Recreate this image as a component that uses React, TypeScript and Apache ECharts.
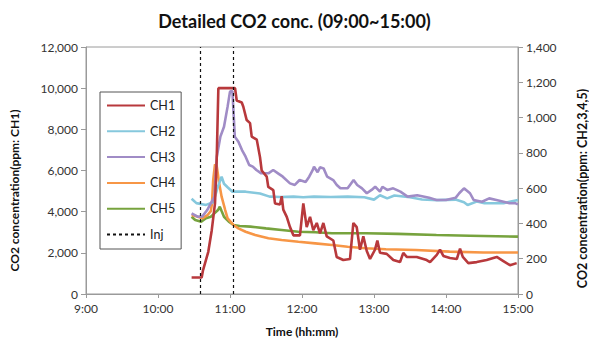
import React, { useEffect, useRef } from "react";
import * as echarts from "echarts";

// time in minutes since 0:00, value in ppm
const ch1: [number, number][] = [
  [628, 800], [636.4, 800], [637.5, 1150], [641.9, 2050], [644.8, 3100], [647.5, 4400], [648.9, 6500],
  [650.3, 10000], [664.2, 10000], [665.6, 9400], [669.8, 9300], [671.1, 9100], [673.9, 8450], [676.7, 8300],
  [678.1, 7650], [682.3, 7500], [685, 6650], [686.4, 6000], [690.6, 5700], [691.9, 5200], [696.1, 5050],
  [697.5, 4400], [701.7, 4350], [703.1, 4750], [704.4, 4100], [707.3, 3750], [710, 3250], [712.8, 2850],
  [718.3, 2850], [721.1, 4400], [723.9, 3250], [726.7, 3750], [729.4, 3100], [732.3, 3450], [735, 2950],
  [737.8, 3450], [740.6, 2800], [746.1, 2600], [748.9, 1800], [754.4, 1650], [760, 1700], [762.8, 3450],
  [765.6, 3250], [768.3, 2150], [771.1, 2800], [773.9, 2100], [776.7, 1700], [780.8, 2150], [782.8, 2600],
  [785, 2000], [790.6, 1950], [796.1, 1650], [801.7, 1550], [804.4, 2000], [807.3, 1800], [815.6, 1800],
  [823.9, 1650], [826.7, 1550], [832.3, 1900], [835, 2150], [837.8, 1850], [843.3, 1750], [849, 1700],
  [851.7, 2200], [854, 1800], [858.6, 1500], [865.6, 1550], [873.9, 1650], [879.4, 1750], [882.3, 1800],
  [887.8, 1600], [893.3, 1400], [898.9, 1500],
];
const ch2: [number, number][] = [
  [628, 540], [632, 515], [640, 505], [646, 520], [650, 610], [653, 665], [655, 625], [658, 605], [662, 580],
  [673, 580], [685, 570], [693, 552], [702, 550], [713, 552], [721, 548], [730, 552], [744, 550], [758, 552],
  [772, 548], [780, 535], [785, 560], [791, 542], [797, 558], [810, 548], [820, 536], [833, 532], [848, 535],
  [855, 520], [858, 504], [866, 525], [872, 514], [888, 514], [893, 523], [900, 533],
];
const ch3: [number, number][] = [
  [628, 457], [633, 438], [637, 440], [641, 476], [644, 514], [647, 552], [649, 778], [652, 892], [655, 948],
  [658, 1062], [660, 1147], [662, 1150], [663, 1024], [664, 892], [667, 863], [670, 816], [673, 778],
  [676, 731], [679, 722], [682, 703], [686, 684], [692, 684], [696, 703], [700, 684], [704, 665], [710, 627],
  [714, 618], [718, 646], [723, 635], [726, 665], [729, 703], [730, 722], [733, 690], [735, 718], [738, 712],
  [741, 665], [746, 646], [749, 618], [752, 599], [758, 599], [760, 618], [763, 646], [766, 618], [770, 599],
  [774, 571], [778, 590], [781, 608], [785, 580], [787, 608], [791, 590], [796, 599], [802, 580], [808, 552],
  [816, 560], [826, 545], [832, 533], [840, 533], [848, 545], [851, 571], [855, 599], [860, 571], [863, 533],
  [870, 523], [876, 542], [882, 533], [888, 523], [893, 514], [898, 514], [900, 508],
];
const ch4: [number, number][] = [
  [628, 448], [632, 440], [637, 429], [641, 445], [644, 470], [645, 514], [646, 646], [647.5, 735], [649, 722],
  [651, 627], [653, 552], [656, 476], [658, 429], [663, 391], [667, 372], [673, 353], [681, 334], [692, 316],
  [703, 306], [717, 296], [731, 287], [745, 278], [758, 268], [773, 259], [790, 254], [815, 249], [843, 240],
  [871, 235], [900, 235],
];
const ch5: [number, number][] = [
  [628, 438], [631, 419], [636, 410], [640, 430], [644, 438], [647, 457], [650, 476], [651.5, 495], [653, 470],
  [655, 438], [659, 410], [663, 391], [668, 385], [677, 382], [690, 372], [703, 363], [717, 353], [731, 350],
  [745, 344], [773, 344], [800, 341], [832, 334], [860, 330], [900, 325],
];
const injTimes = [635, 663];

const FONT = "Lato, 'Liberation Sans', sans-serif";

const fmtTime = (v: number) => `${Math.floor(v / 60)}:${String(v % 60).padStart(2, "0")}`;
const fmtNum = (v: number) => v.toLocaleString("en-US");

export default function App() {
  const ref = useRef<HTMLDivElement>(null);
  useEffect(() => {
    document.body.style.margin = "0";
    if (!ref.current) return;
    const chart = echarts.init(ref.current, undefined, { renderer: "svg" });
    const lineSeries = (name: string, data: [number, number][], color: string, yAxisIndex: number) => ({
      name,
      type: "line",
      data,
      yAxisIndex,
      symbol: "none",
      lineStyle: { color, width: 2.6 },
      itemStyle: { color },
    });
    chart.setOption({
      animation: false,
      textStyle: { fontFamily: FONT },
      title: {
        text: "Detailed CO2 conc. (09:00~15:00)",
        left: "center",
        top: 7,
        textStyle: { fontFamily: FONT, fontSize: 18, fontWeight: "bold", color: "#111" },
      },
      grid: {
        left: 86,
        right: 71,
        top: 47,
        bottom: 51,
        show: true,
        borderColor: "#9a9a9a",
        borderWidth: 1,
        outerBoundsMode: "none",
        containLabel: false,
      },
      legend: {
        orient: "vertical",
        left: 100,
        top: 92,
        itemWidth: 38,
        itemHeight: 14,
        itemGap: 12.8,
        itemStyle: { opacity: 0 },
        lineStyle: { width: 2 },
        padding: [7, 6, 8, 6],
        borderColor: "#555",
        borderWidth: 1,
        textStyle: { fontFamily: FONT, fontSize: 12.5, color: "#222" },
        data: ["CH1", "CH2", "CH3", "CH4", "CH5", "Inj"],
      },
      xAxis: {
        type: "value",
        min: 540,
        max: 900,
        interval: 60,
        name: "Time (hh:mm)",
        nameLocation: "middle",
        nameGap: 31,
        nameTextStyle: { fontFamily: FONT, fontSize: 12, fontWeight: "bold", color: "#111" },
        axisLine: { lineStyle: { color: "#9a9a9a" } },
        axisTick: { length: 4, lineStyle: { color: "#9a9a9a" } },
        axisLabel: { formatter: fmtTime, fontFamily: FONT, fontSize: 12, color: "#333", margin: 8 },
        splitLine: { show: false },
      },
      yAxis: [
        {
          type: "value",
          min: 0,
          max: 12000,
          interval: 2000,
          name: "CO2 concentration(ppm: CH1)",
          nameLocation: "middle",
          nameGap: 66,
          nameTextStyle: {
            fontFamily: FONT,
            fontSize: 12,
            fontWeight: "bold",
            color: "#111",
            padding: [0, 40, 0, 0],
          },
          axisLine: { show: true, lineStyle: { color: "#9a9a9a" } },
          axisTick: { show: true, length: 5, lineStyle: { color: "#9a9a9a" } },
          axisLabel: { formatter: fmtNum, fontFamily: FONT, fontSize: 12, color: "#333", margin: 8 },
          splitLine: { show: false },
        },
        {
          type: "value",
          min: 0,
          max: 1400,
          interval: 200,
          position: "right",
          name: "CO2 concentration(ppm: CH2,3,4,5)",
          nameLocation: "middle",
          nameGap: 58,
          nameRotate: 90,
          nameTextStyle: {
            fontFamily: FONT,
            fontSize: 12.5,
            fontWeight: "bold",
            color: "#111",
            padding: [0, 36, 0, 0],
          },
          axisLine: { show: true, lineStyle: { color: "#9a9a9a" } },
          axisTick: { show: true, length: 5, lineStyle: { color: "#9a9a9a" } },
          axisLabel: { formatter: fmtNum, fontFamily: FONT, fontSize: 12, color: "#333", margin: 8 },
          splitLine: { show: false },
        },
      ],
      series: [
        lineSeries("CH5", ch5, "#77a33e", 1),
        lineSeries("CH4", ch4, "#f79646", 1),
        lineSeries("CH2", ch2, "#86c8dd", 1),
        lineSeries("CH3", ch3, "#a08cc6", 1),
        lineSeries("CH1", ch1, "#b8393c", 0),
        {
          name: "Inj",
          type: "line",
          data: [],
          symbol: "none",
          lineStyle: { color: "#111", width: 1.2, type: [3, 3] },
          itemStyle: { color: "#111" },
          markLine: {
            silent: true,
            symbol: "none",
            label: { show: false },
            lineStyle: { color: "#111", width: 1.2, type: [3, 3] },
            data: injTimes.map((t) => ({ xAxis: t })),
          },
        },
      ],
    });
    return () => chart.dispose();
  }, []);
  return <div ref={ref} style={{ width: 589, height: 345 }} />;
}
